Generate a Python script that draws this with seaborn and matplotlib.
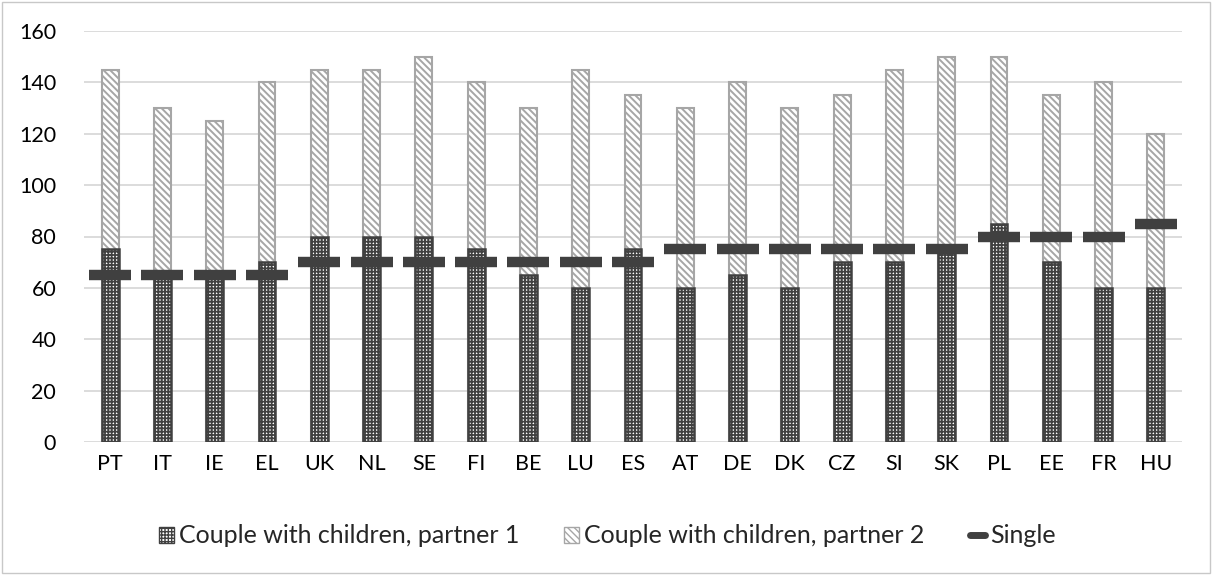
import matplotlib
matplotlib.use("Agg")
import matplotlib.pyplot as plt
import seaborn as sns
import pandas as pd
import numpy as np
from matplotlib.patches import Patch, Rectangle
from matplotlib.lines import Line2D

countries = ["PT", "IT", "IE", "EL", "UK", "NL", "SE", "FI", "BE", "LU", "ES",
             "AT", "DE", "DK", "CZ", "SI", "SK", "PL", "EE", "FR", "HU"]
partner1 = [75, 65, 65, 70, 80, 80, 80, 75, 65, 60, 75,
            60, 65, 60, 70, 70, 75, 85, 70, 60, 60]
partner2 = [70, 65, 60, 70, 65, 65, 70, 65, 65, 85, 60,
            70, 75, 70, 65, 75, 75, 65, 65, 80, 60]
single = [65, 65, 65, 65, 70, 70, 70, 70, 70, 70, 70,
          75, 75, 75, 75, 75, 75, 80, 80, 80, 85]
yticks = [0, 20, 40, 60, 80, 100, 120, 140, 160]

labels = ["Couple with children, partner 1", "Couple with children, partner 2", "Single"]

df = pd.DataFrame({"country": countries, "p1": partner1, "p2": partner2, "single": single})
df["total"] = df["p1"] + df["p2"]

sns.set_style("white")
plt.rcParams["font.family"] = ["Lato", "DejaVu Sans"]

DARK = "#404040"
GRAY = "#a6a6a6"
DOTS = "+" * 5
DIAG = "\\" * 5


def set_hlw(p, lw):
    if hasattr(p, "set_hatch_linewidth"):
        p.set_hatch_linewidth(lw)
    else:
        p._hatch_linewidth = lw


fig = plt.figure(figsize=(12.12, 5.75), dpi=100)
fig.patches.append(Rectangle((0.002, 0.003), 0.996, 0.993, transform=fig.transFigure,
                             fill=False, edgecolor="#c8c8c8", linewidth=1.0))
ax = fig.add_axes([84 / 1212, (575 - 442) / 575, 1098 / 1212, 411 / 575])

for y in yticks:
    ax.axhline(y, color="#d9d9d9", linewidth=1.3, zorder=0)

width = 0.325
n = len(countries)

with plt.rc_context({"hatch.linewidth": 1.3}):
    sns.barplot(data=df, x="country", y="total", color="white", width=width, ax=ax,
                saturation=1, zorder=2)
for p in ax.patches[:n]:
    p.set_facecolor("white")
    p.set_edgecolor(GRAY)
    p.set_hatch(DIAG)
    p.set_linewidth(1.5)
    set_hlw(p, 1.4)

with plt.rc_context({"hatch.linewidth": 1.3}):
    sns.barplot(data=df, x="country", y="p1", color="white", width=width, ax=ax,
                saturation=1, zorder=3)
for p in ax.patches[n:2 * n]:
    p.set_facecolor("white")
    p.set_edgecolor(DARK)
    p.set_hatch(DOTS)
    p.set_linewidth(1.8)
    set_hlw(p, 1.3)

ax.plot(np.arange(n), df["single"], linestyle="none", marker="_", markersize=30,
        markeredgewidth=7.5, color=DARK, zorder=5)

ax.set_xlim(-0.5, n - 0.5)
ax.set_ylim(0, 160)
ax.set_yticks(yticks)
ax.set_xlabel("")
ax.set_ylabel("")
ax.tick_params(axis="both", length=0, labelsize=15.5, colors="black")
ax.tick_params(axis="x", pad=9)
ax.tick_params(axis="y", pad=20)
for s in ax.spines.values():
    s.set_visible(False)

h1 = Patch(facecolor="white", edgecolor=DARK, hatch=DOTS, linewidth=1)
h2 = Patch(facecolor="white", edgecolor=GRAY, hatch=DIAG, linewidth=1)
set_hlw(h1, 1.3)
set_hlw(h2, 1.3)
handles = [h1, h2, Line2D([0], [0], color=DARK, linewidth=5, solid_capstyle="round")]
fig.legend(handles, labels, loc="center", bbox_to_anchor=(0.501, 0.068), ncol=3,
           frameon=False, fontsize=18, handlelength=0.6, handleheight=0.6,
           handletextpad=0.2, columnspacing=1.8)

fig.savefig("out.png", dpi=100)
